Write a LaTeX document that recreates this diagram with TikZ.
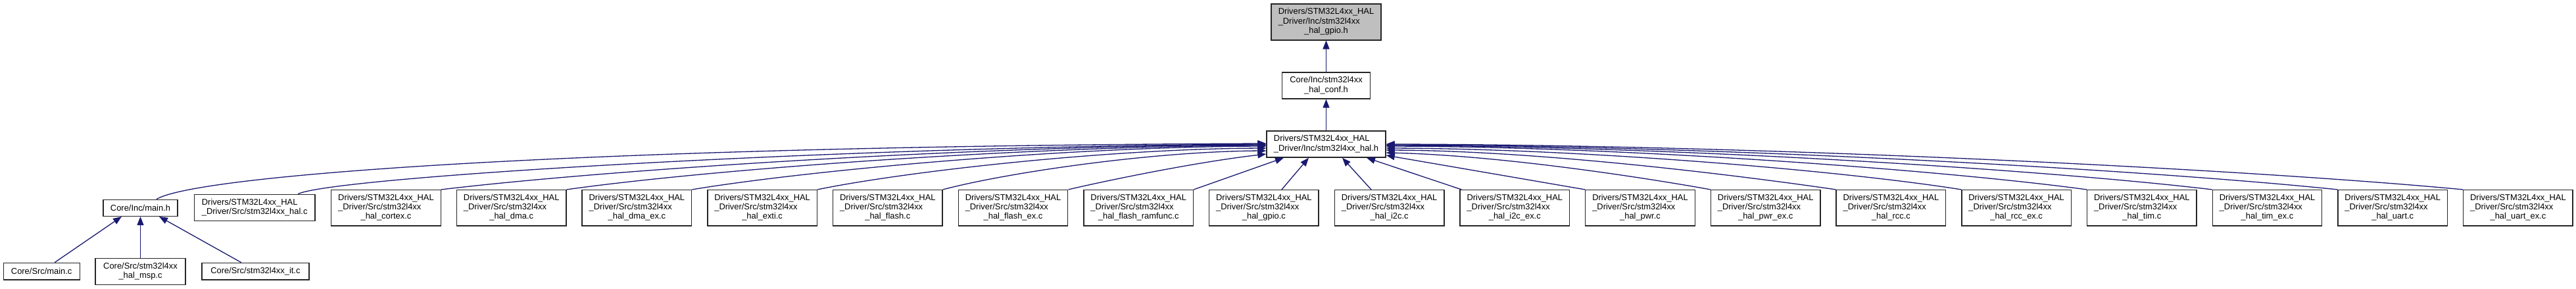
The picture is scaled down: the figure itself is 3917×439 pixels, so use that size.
\documentclass[tikz,border=0pt]{standalone}
\usepackage{fontspec}
\setmainfont{Liberation Sans}
\usetikzlibrary{arrows.meta,calc}
\definecolor{edgeblue}{HTML}{191970}
\definecolor{focusgray}{HTML}{BFBFBF}
\newcommand{\twol}[2]{\begin{tabular}{@{}l@{}}#1\\\multicolumn{1}{@{}c@{}}{#2}\end{tabular}}
\newcommand{\threel}[3]{\begin{tabular}{@{}l@{}}#1\\#2\\\multicolumn{1}{@{}c@{}}{#3}\end{tabular}}
\begin{document}
\begin{tikzpicture}[x=1pt,y=-1pt,
  box/.style={draw=black!85, line width=1.4pt, fill=white, inner sep=0pt,
    font=\fontsize{12.9}{14.3}\selectfont},
  srcbox/.style={box, minimum width=166.5pt, minimum height=54.3pt},
  edge/.style={draw=edgeblue, line width=1.3pt, -{Triangle[length=13pt,width=10pt]}}]
\fill[white] (0,0) rectangle (3917,439);
\useasboundingbox (0,0) rectangle (3917,439);

% top chain
\node[box, fill=focusgray, minimum width=167pt, minimum height=55pt] (gpioh) at (2016.5,33.3)
  {\threel{Drivers/STM32L4xx\_HAL}{\_Driver/Inc/stm32l4xx}{\_hal\_gpio.h}};
\node[box, minimum width=134.5pt, minimum height=40pt] (confh) at (2016.5,130)
  {\twol{Core/Inc/stm32l4xx}{\_hal\_conf.h}};
\node[box, minimum width=181pt, minimum height=40pt] (halh) at (2016.5,219)
  {\twol{Drivers/STM32L4xx\_HAL}{\_Driver/Inc/stm32l4xx\_hal.h}};

% middle row
\node[box, minimum width=113.3pt, minimum height=25pt] (mainh) at (213.5,315.8) {Core/Inc/main.h};
\node[box, minimum width=183.7pt, minimum height=40.4pt] (halc) at (387.2,315.5)
  {\twol{Drivers/STM32L4xx\_HAL}{\_Driver/Src/stm32l4xx\_hal.c}};
\foreach \nm/\lab [count=\i from 0] in {cortex/cortex, dma/dma, dmaex/dma\_ex, exti/exti,
    flash/flash, flashex/flash\_ex, ramfunc/flash\_ramfunc, gpioc/gpio, itwoc/i2c, itwocex/i2c\_ex,
    pwr/pwr, pwrex/pwr\_ex, rcc/rcc, rccex/rcc\_ex, tim/tim, timex/tim\_ex, uart/uart, uartex/uart\_ex}{
  \node[srcbox] (\nm) at ({587+190.7*\i},315.8)
    {\threel{Drivers/STM32L4xx\_HAL}{\_Driver/Src/stm32l4xx}{\_hal\_\lab.c}};
}

% bottom row
\node[box, minimum width=116pt, minimum height=25.7pt] (mainc) at (63.2,412.2) {Core/Src/main.c};
\node[box, minimum width=137pt, minimum height=40pt] (mspc) at (213.5,412.3)
  {\twol{Core/Src/stm32l4xx}{\_hal\_msp.c}};
\node[box, minimum width=163.2pt, minimum height=25.7pt] (itc) at (388.4,412.2) {Core/Src/stm32l4xx\_it.c};

% edges: top chain
\draw[edge] (confh.north) -- (gpioh.south);
\draw[edge] (halh.north) -- (confh.south);

% edges into main.h
\draw[edge] ($(mainc.north)+(20,0)$) -- ($(mainh.south)+(-28.5,0)$);
\draw[edge] (mspc.north) -- (mainh.south);
\draw[edge] ($(itc.north)+(-21.7,0)$) -- ($(mainh.south)+(28.5,0)$);

% edges into hal.h from the left
\draw[edge] ($(mainh.north)+(24.5,0)$) .. controls (300,265) and (900,222) .. ($(halh.west)+(0,-1)$);
\draw[edge] ($(halc.north)+(66,0)$) .. controls (510,268) and (1300,222) .. ($(halh.west)+(0,0)$);
\draw[edge] (cortex.north east) .. controls (921,258) and (1486,221) .. ($(halh.west)+(0,1)$);
\draw[edge] (dma.north east) .. controls (1074,258) and (1553,222) .. ($(halh.west)+(0,2)$);
\draw[edge] (dmaex.north east) .. controls (1227,259) and (1620,223) .. ($(halh.west)+(0,3)$);
\draw[edge] (exti.north east) .. controls (1379,260) and (1687,226) .. ($(halh.west)+(0,6)$);
\draw[edge] (flash.north east) .. controls (1532,262) and (1753,230) .. ($(halh.west)+(0,10)$);
\draw[edge] (flashex.north east) .. controls (1684,274) and (1820,246) .. ($(halh.west)+(0,15)$);
\draw[edge] (ramfunc.north east) -- ($(halh.south)+(-64.5,0)$);
\draw[edge] ($(gpioc.north)+(27,0)$) -- ($(halh.south)+(-26.5,0)$);

% edges into hal.h from the right
\draw[edge] ($(itwoc.north)+(-27.6,0)$) -- ($(halh.south)+(24.5,0)$);
\draw[edge] ($(itwocex.north west)+(3,0)$) -- ($(halh.south)+(61.5,0)$);
\draw[edge] (pwr.north west) -- ($(halh.east)+(0,17)$);
\draw[edge] (pwrex.north west) .. controls (2502,270) and (2280,236) .. ($(halh.east)+(0,13)$);
\draw[edge] (rcc.north west) .. controls (2655,268) and (2347,229) .. ($(halh.east)+(0,9)$);
\draw[edge] (rccex.north west) .. controls (2807,260) and (2413,226) .. ($(halh.east)+(0,6)$);
\draw[edge] (tim.north west) .. controls (2960,259) and (2480,223) .. ($(halh.east)+(0,3)$);
\draw[edge] (timex.north west) .. controls (3112,258) and (2547,222) .. ($(halh.east)+(0,2)$);
\draw[edge] (uart.north west) .. controls (3265,258) and (2614,221) .. ($(halh.east)+(0,1)$);
\draw[edge] (uartex.north west) .. controls (3417,257) and (2680,220) .. ($(halh.east)+(0,0)$);
\end{tikzpicture}
\end{document}
